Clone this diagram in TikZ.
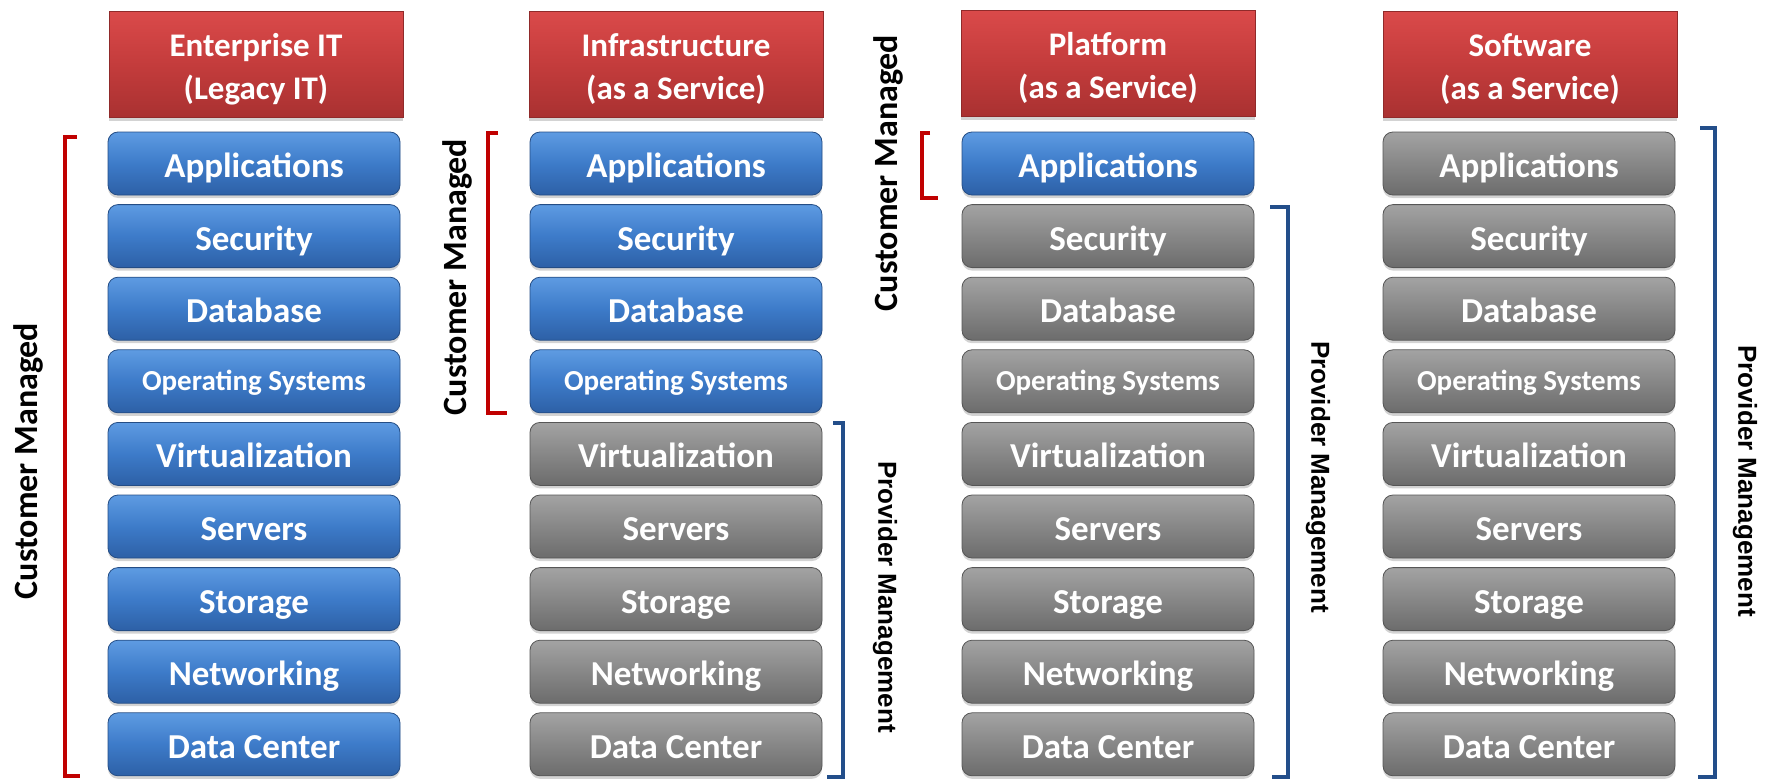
\documentclass[tikz,border=0pt]{standalone}
\usepackage{fontspec}
\setmainfont{Carlito}
\newfontfamily\arialf{Liberation Sans}
\usetikzlibrary{shadows}
\definecolor{bluetop}{HTML}{5E9BE2}
\definecolor{bluemid}{HTML}{3D7BC9}
\definecolor{bluebot}{HTML}{2D60A6}
\definecolor{graytop}{HTML}{A3A3A3}
\definecolor{graymid}{HTML}{878787}
\definecolor{graybot}{HTML}{6C6C6C}
\definecolor{redtop}{HTML}{DA4A4A}
\definecolor{redmid}{HTML}{C43C3C}
\definecolor{redbot}{HTML}{A93131}
\definecolor{brred}{HTML}{C00000}
\definecolor{brblue}{HTML}{234E8A}
\tikzset{
  layerbox/.style={rounded corners=10pt, minimum width=292pt, minimum height=63pt,
     inner sep=0pt, text=white, font=\bfseries\fontsize{35}{40}\selectfont,
     text height=30pt, text depth=2pt,
     drop shadow={shadow xshift=0pt, shadow yshift=-3pt, opacity=0.35}},
  bluebox/.style={layerbox, top color=bluetop, bottom color=bluebot, middle color=bluemid, draw=bluebot!80!black, line width=0.8pt},
  graybox/.style={layerbox, top color=graytop, bottom color=graybot, middle color=graymid, draw=graybot!80!black, line width=0.8pt},
  smalltxt/.style={font=\bfseries\fontsize{29}{32}\selectfont, text height=20pt, text depth=2pt},
  headbox/.style={minimum width=294pt, minimum height=106pt, inner sep=0pt,
     top color=redtop, bottom color=redbot, middle color=redmid, draw=redbot!85!black, line width=0.8pt,
     drop shadow={shadow xshift=0pt, shadow yshift=-4pt, opacity=0.35}},
  headtext/.style={text=white, align=center, inner sep=0pt, font=\bfseries\fontsize{33}{43}\selectfont},
  redbr/.style={draw=brred, line width=3.5pt},
  bluebr/.style={draw=brblue, line width=3.5pt},
  custlabel/.style={rotate=90, font=\bfseries\fontsize{34}{38}\selectfont, text=black, inner sep=0pt},
  provlabel/.style={rotate=-90, font=\arialf\bfseries\fontsize{26}{30}\selectfont, text=black, inner sep=0pt}
}
\begin{document}
\begin{tikzpicture}[x=1pt,y=-1pt]
\useasboundingbox (0,0) rectangle (1767,779);
% headers
\foreach \h/\hx/\hy/\ta/\tb in {1/256/64/{Enterprise IT}/{(Legacy IT)}, 2/676/64/Infrastructure/{(as a Service)}, 3/1108/63/Platform/{(as a Service)}, 4/1530/64/Software/{(as a Service)}}{
  \node[headbox] (h\h) at (\hx,\hy) {};
  \node[headtext] (h\h t) at ([yshift=-5pt]h\h.center) {\ta\\\tb};
}
% rows
\foreach \col/\cx/\nblue in {1/254/9, 2/676/4, 3/1108/1, 4/1529/0}{
  \foreach \r/\lab in {1/Applications, 2/Security, 3/Database, 4/{Operating Systems}, 5/Virtualization, 6/Servers, 7/Storage, 8/Networking, 9/Data Center}{
    \pgfmathsetmacro{\cy}{132+72.6*(\r-1)+31.5}
    \ifnum\r>\nblue
      \ifnum\r=4
        \node[graybox, smalltxt] (c\col r\r) at (\cx,\cy) {\lab};
      \else
        \node[graybox] (c\col r\r) at (\cx,\cy) {\lab};
      \fi
    \else
      \ifnum\r=4
        \node[bluebox, smalltxt] (c\col r\r) at (\cx,\cy) {\lab};
      \else
        \node[bluebox] (c\col r\r) at (\cx,\cy) {\lab};
      \fi
    \fi
  }
}
% customer brackets
\draw[redbr] (77,137) -- (65,137) -- (65,776) -- (80,776);
\node[custlabel] (cm1) at (28,461) {Customer Managed};
\draw[redbr] (498,133) -- (488,133) -- (488,413) -- (507,413);
\node[custlabel] (cm2) at (457,277) {Customer Managed};
\draw[redbr] (930,133) -- (922,133) -- (922,198) -- (938,198);
\node[custlabel] (cm3) at (888,173) {Customer Managed};
% provider brackets
\draw[bluebr] (833,423) -- (843,423) -- (843,777) -- (827,777);
\node[provlabel] (pm2) at (885,597) {Provider Management};
\draw[bluebr] (1270,207) -- (1288,207) -- (1288,777) -- (1272,777);
\node[provlabel] (pm3) at (1318,477) {Provider Management};
\draw[bluebr] (1700,128) -- (1715,128) -- (1715,777) -- (1698,777);
\node[provlabel] (pm4) at (1745,481) {Provider Management};
\end{tikzpicture}
\end{document}
